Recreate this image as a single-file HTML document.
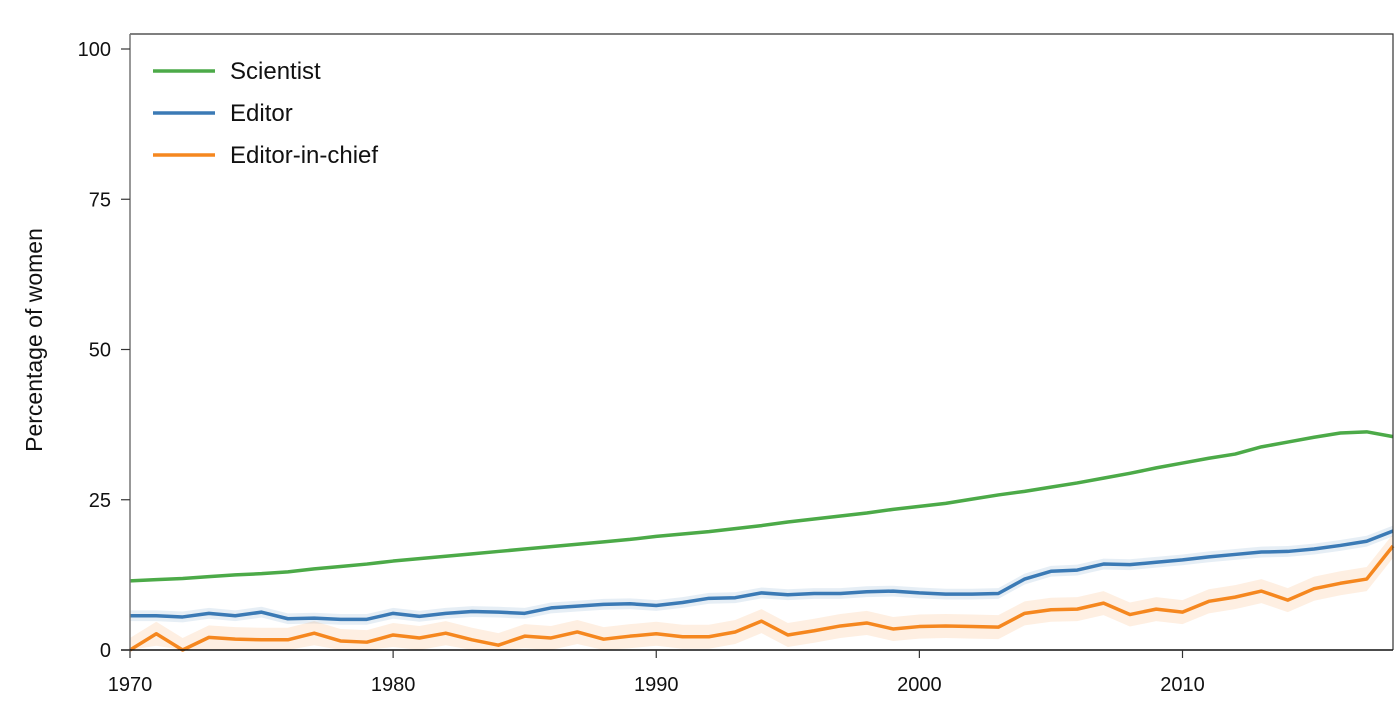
<!DOCTYPE html>
<html><head><meta charset="utf-8"><style>
html,body{margin:0;padding:0;background:#fff;}
svg{display:block;font-family:"Liberation Sans",sans-serif;}
</style></head><body>
<svg id="chart" width="1398" height="721" viewBox="0 0 1398 721" xmlns="http://www.w3.org/2000/svg">
<g id="bands"></g><g id="lines"></g><g id="axes"></g>
<g>
<line x1="153" y1="71" x2="215" y2="71" stroke="#4caa48" stroke-width="3.5"/>
<text x="230" y="79" font-size="24" fill="#111">Scientist</text>
<line x1="153" y1="113" x2="215" y2="113" stroke="#3b7ab5" stroke-width="3.5"/>
<text x="230" y="121" font-size="24" fill="#111">Editor</text>
<line x1="153" y1="155" x2="215" y2="155" stroke="#f5871f" stroke-width="3.5"/>
<text x="230" y="163" font-size="24" fill="#111">Editor-in-chief</text>
</g>
<text transform="translate(42,340) rotate(-90)" text-anchor="middle" font-size="23" fill="#111">Percentage of women</text>
</svg>
<script>
const years = [];
for (let y = 1970; y <= 2018; y++) years.push(y);
const scientist = [11.5,11.7,11.9,12.2,12.5,12.7,13.0,13.5,13.9,14.3,14.8,15.2,15.6,16.0,16.4,16.8,17.2,17.6,18.0,18.4,18.9,19.3,19.7,20.2,20.7,21.3,21.8,22.3,22.8,23.4,23.9,24.4,25.1,25.8,26.4,27.1,27.8,28.6,29.4,30.3,31.1,31.9,32.6,33.8,34.6,35.4,36.1,36.3,35.5];
const editor = [5.7,5.7,5.5,6.1,5.7,6.3,5.2,5.3,5.1,5.1,6.1,5.6,6.1,6.4,6.3,6.1,7.0,7.3,7.6,7.7,7.4,7.9,8.6,8.7,9.5,9.2,9.4,9.4,9.7,9.8,9.5,9.3,9.3,9.4,11.8,13.1,13.3,14.3,14.2,14.6,15.0,15.5,15.9,16.3,16.4,16.8,17.4,18.1,19.8];
const chief = [0,2.7,0,2.1,1.8,1.7,1.7,2.8,1.5,1.3,2.5,2.0,2.8,1.7,0.8,2.3,2.0,3.0,1.8,2.3,2.7,2.2,2.2,3.0,4.8,2.5,3.2,4.0,4.5,3.5,3.9,4.0,3.9,3.8,6.1,6.7,6.8,7.8,5.9,6.8,6.3,8.1,8.8,9.8,8.3,10.2,11.1,11.8,17.3];
const editorErr = 0.9;
const chiefErr = 2.0;
const yTicks = [0,25,50,75,100];
const xTicks = [1970,1980,1990,2000,2010];

const X0=130, X1=1393, Y0=650, Y1=49;
const xs = v => X0 + (v-1970)*(X1-X0)/(2018-1970);
const ys = v => Y0 - v*(Y0-Y1)/100;
const NS='http://www.w3.org/2000/svg';
function mk(tag, attrs, parent){const e=document.createElementNS(NS,tag);for(const k in attrs)e.setAttribute(k,attrs[k]);parent.appendChild(e);return e;}
const bands=document.getElementById('bands'), lines=document.getElementById('lines'), axes=document.getElementById('axes');

function band(vals, err, color, name){
  const top = vals.map((v,i)=>xs(years[i])+','+ys(Math.min(100,v+err)));
  const bot = vals.map((v,i)=>xs(years[i])+','+ys(Math.max(0,v-err))).reverse();
  const p = mk('polygon',{points:top.concat(bot).join(' '),fill:color},bands);
  
  
}
function line(vals, color, name){
  const p = mk('polyline',{points:vals.map((v,i)=>xs(years[i])+','+ys(v)).join(' '),fill:'none',stroke:color,'stroke-width':3.5,'stroke-linejoin':'round'},lines);
  
  
}
band(editor, editorErr, 'rgba(59,122,181,0.13)', 'editor-ci-band');
band(chief, chiefErr, 'rgba(245,135,31,0.13)', 'editor-in-chief-ci-band');
line(scientist, '#4caa48', 'scientist-line');
line(editor, '#3b7ab5', 'editor-line');
line(chief, '#f5871f', 'editor-in-chief-line');

const frame = mk('path',{d:`M${X0},34 H${X1} V${Y0}`,fill:'none',stroke:'#333','stroke-width':1.2},axes);


const yl = mk('line',{x1:X0,y1:34,x2:X0,y2:Y0,stroke:'#777','stroke-width':1.5},axes);


const xl = mk('line',{x1:X0-9,y1:Y0,x2:X1,y2:Y0,stroke:'#111','stroke-width':1.5},axes);


yTicks.forEach(t=>{
  mk('line',{x1:X0-9,y1:ys(t),x2:X0,y2:ys(t),stroke:'#333','stroke-width':1.2},axes);
  const tx = mk('text',{x:X0-19,y:ys(t)+7,'text-anchor':'end','font-size':20,fill:'#111'},axes);
  tx.textContent = t;
  
  
});
xTicks.forEach(t=>{
  mk('line',{x1:xs(t),y1:Y0,x2:xs(t),y2:Y0+8,stroke:'#333','stroke-width':1.2},axes);
  const tx = mk('text',{x:xs(t),y:Y0+41,'text-anchor':'middle','font-size':20,fill:'#111'},axes);
  tx.textContent = t;
  
  
});
</script>
</body></html>
